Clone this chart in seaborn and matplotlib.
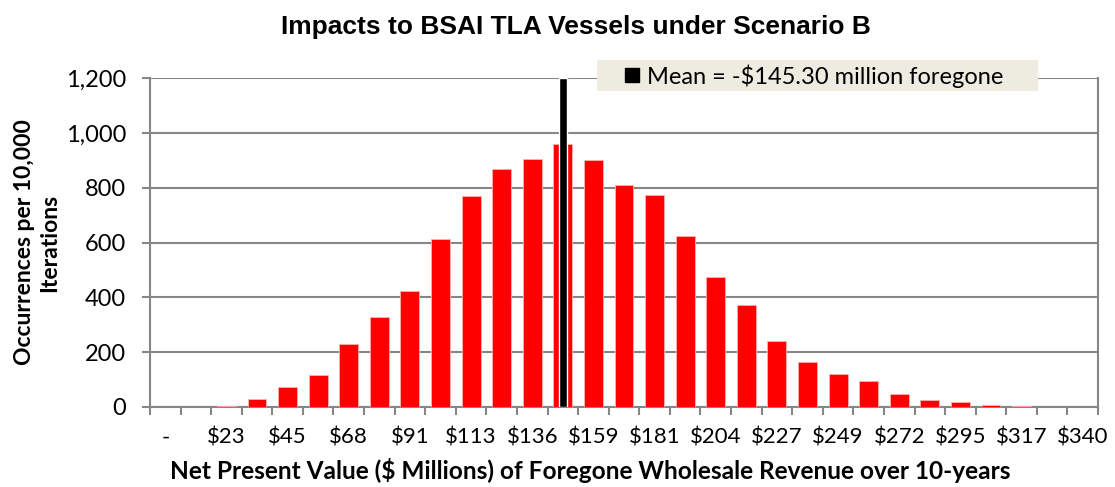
import numpy as np
import pandas as pd
import matplotlib
matplotlib.use("Agg")
import matplotlib.pyplot as plt
from matplotlib.lines import Line2D
from matplotlib.patches import Rectangle
from matplotlib.ticker import FixedLocator, FuncFormatter
import seaborn as sns

# Histogram of simulated foregone revenue (occurrences per 10,000 iterations)
bin_labels = ["-", "$11", "$23", "$34", "$45", "$57", "$68", "$79", "$91", "$102",
              "$113", "$125", "$136", "$147", "$159", "$170", "$181", "$193",
              "$204", "$215", "$227", "$238", "$249", "$261", "$272", "$283",
              "$295", "$306", "$317", "$329", "$340"]
occurrences = [0, 0, 2, 28, 73, 116, 231, 328, 423, 613,
               770, 867, 903, 959, 902, 811, 775, 625, 475, 371,
               242, 163, 122, 94, 46, 25, 19, 7, 3, 0, 0]
bin_step = 340 / 30          # $ millions per bin
mean_value = 145.30          # $ millions foregone
mean_line_height = 1200

title = "Impacts to BSAI TLA Vessels under Scenario B"
xlabel = "Net Present Value ($ Millions) of Foregone Wholesale Revenue over 10-years"
ylabel = "Occurrences per 10,000\nIterations"
legend_label = "Mean = -$145.30 million foregone"

df = pd.DataFrame({"bin": bin_labels, "count": occurrences})

sns.set_theme(style="white")
plt.rcParams["font.family"] = ["Lato", "DejaVu Sans"]
plt.rcParams["text.color"] = "black"
plt.rcParams["axes.labelcolor"] = "black"

fig = plt.figure(figsize=(11.15, 4.87), dpi=100)
ax = fig.add_axes([0.1345, 0.1643, 0.9848 - 0.1345, 0.8398 - 0.1643])

grid_color = "#868686"

sns.barplot(data=df, x="bin", y="count", order=bin_labels, color="#FF0000",
            saturation=1, width=0.62, edgecolor="#FFB0B0", linewidth=0.6,
            ax=ax, zorder=3)

# Mean marker: a thin bar in the bin nearest the mean
mean_bin = int(round(mean_value / bin_step))
ax.bar(mean_bin, mean_line_height, width=0.27, color="black", zorder=4)

ax.set_xlim(-0.5, len(bin_labels) - 0.5)
ax.set_ylim(0, 1200)
ax.set_yticks(np.arange(0, 1201, 200))
ax.yaxis.set_major_formatter(FuncFormatter(lambda v, p: f"{int(v):,}"))
ax.yaxis.grid(True, color=grid_color, linewidth=1.5, zorder=0)
ax.set_axisbelow(True)

# tick marks on category boundaries, labels on every other category
ax.xaxis.set_major_locator(FixedLocator(np.arange(-0.5, len(bin_labels), 1.0)))
ax.set_xticklabels([])
label_pos = np.arange(0, len(bin_labels), 2)
ax.xaxis.set_minor_locator(FixedLocator(label_pos))
ax.set_xticklabels([bin_labels[i] for i in label_pos], minor=True)
ax.tick_params(axis="x", which="major", direction="out", length=6, width=1.5,
               color=grid_color, bottom=True)
ax.tick_params(axis="x", which="minor", length=0, pad=15, labelsize=16,
               labelcolor="black")
ax.tick_params(axis="y", direction="out", length=6, width=1.5, color=grid_color,
               left=True, labelsize=17, pad=11, labelcolor="black")

for side in ["left", "bottom", "right"]:
    ax.spines[side].set_visible(True)
    ax.spines[side].set_color(grid_color)
    ax.spines[side].set_linewidth(1.5)
ax.spines["top"].set_visible(False)

ax.set_xlabel(xlabel, fontsize=17.6, fontweight="bold")
ax.xaxis.set_label_coords(0.464, -0.155)
ax.set_ylabel(ylabel, fontsize=16.5, fontweight="bold", labelpad=4,
              linespacing=1.25)

fig.text(0.5165, 0.944, title, ha="center", va="center", fontsize=19,
         fontweight="bold", family=["Liberation Sans", "DejaVu Sans"])

# legend panel sitting over the top edge of the plot area
fig.add_artist(Rectangle((597 / 1115, 1 - 91 / 487), 441 / 1115, 31 / 487,
                         transform=fig.transFigure, facecolor="#EEECE1",
                         edgecolor="none", zorder=5))
handle = Line2D([], [], marker="s", linestyle="none", markersize=10.5,
                markerfacecolor="black", markeredgecolor="black")
leg = fig.legend([handle], [legend_label], loc="center left",
                 bbox_to_anchor=(620 / 1115, 1 - 76 / 487), frameon=False,
                 fontsize=17, handletextpad=0.15, borderpad=0,
                 handlelength=1.0, borderaxespad=0)
leg.set_zorder(6)

fig.savefig("out.png", dpi=100)
